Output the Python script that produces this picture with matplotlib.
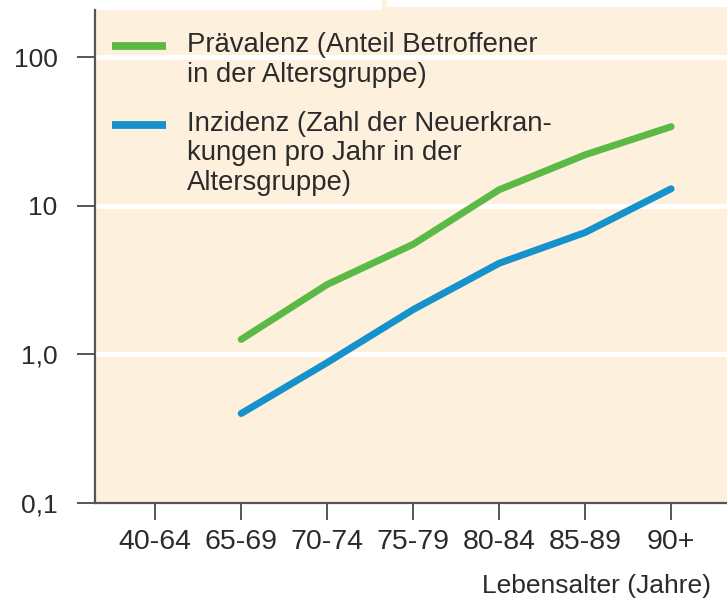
import matplotlib
matplotlib.use("Agg")
import matplotlib.pyplot as plt
from matplotlib.patches import Rectangle
from matplotlib.ticker import FixedLocator, NullLocator

plt.rcParams['font.family'] = ['Liberation Sans', 'DejaVu Sans']

# data
age_groups = ['40-64', '65-69', '70-74', '75-79', '80-84', '85-89', '90+']
praevalenz = [None, 1.26, 2.95, 5.5, 12.8, 22.0, 34.0]
inzidenz = [None, 0.40, 0.88, 2.0, 4.1, 6.6, 13.0]
y_ticks = [0.1, 1, 10, 100]
y_labels = ['0,1', '1,0', '10', '100']

legend_prae = ['Prävalenz (Anteil Betroffener', 'in der Altersgruppe)']
legend_inz = ['Inzidenz (Zahl der Neuerkran-', 'kungen pro Jahr in der',
              'Altersgruppe)']

green = '#5bb946'
blue = '#1591cc'
beige = '#fdf0dc'
text_col = '#2b2b2b'
W, H = 727, 602

fig = plt.figure(figsize=(W / 100, H / 100), dpi=100)
ax = fig.add_axes([95 / W, (H - 503) / H, (W - 95) / W, (503 - 10) / H])
ax.set_facecolor(beige)

# little notch at the top of the panel
fig.patches.append(Rectangle((382 / W, (H - 10) / H), 5 / W, 10 / H,
                             transform=fig.transFigure, color=beige, lw=0))
fig.patches.append(Rectangle((387 / W, (H - 10) / H), (W - 387) / W, 3 / H,
                             transform=fig.transFigure, color=beige, lw=0))

x = list(range(len(age_groups)))
px = [i for i, v in zip(x, praevalenz) if v is not None]
pv = [v for v in praevalenz if v is not None]
ix = [i for i, v in zip(x, inzidenz) if v is not None]
iv = [v for v in inzidenz if v is not None]

ax.set_yscale('log')
ax.set_ylim(0.1, 10 ** (2 + 47 / 148.5))
ax.set_xlim(-0.70, 6.65)

for t in y_ticks[1:]:
    ax.axhline(t, color='white', lw=3.6, zorder=1)

ax.plot(px, pv, color=green, lw=5, solid_capstyle='round', zorder=3)
ax.plot(ix, iv, color=blue, lw=5, solid_capstyle='round', zorder=3)

ax.yaxis.set_major_locator(FixedLocator(y_ticks))
ax.yaxis.set_minor_locator(NullLocator())
ax.set_yticklabels(y_labels)
ax.set_xticks(x)
ax.set_xticklabels(age_groups)

for s in ['top', 'right']:
    ax.spines[s].set_visible(False)
for s in ['left', 'bottom']:
    ax.spines[s].set_color('#555555')
    ax.spines[s].set_linewidth(1.6)

ax.tick_params(axis='y', length=13, width=1.4, color='#555555', pad=14,
               labelsize=19, labelcolor=text_col)
ax.tick_params(axis='x', length=12, width=1.4, color='#555555', pad=7,
               labelsize=20.5, labelcolor=text_col)

ax.set_xlabel('Lebensalter (Jahre)', fontsize=19, color=text_col)
ax.xaxis.set_label_coords((711 - 95) / (W - 95), -(586 - 503) / (503 - 10))
ax.xaxis.label.set_ha('right')
ax.xaxis.label.set_va('center')

# hand-made legend
def ax_xy(px_x, px_y):
    return (px_x - 95) / (W - 95), (503 - px_y) / (503 - 10)

def legend_entry(color, line_y, lines, first_base):
    x0, y0 = ax_xy(112, line_y)
    x1, _ = ax_xy(166, line_y)
    ax.plot([x0, x1], [y0, y0], color=color, lw=5.6, transform=ax.transAxes,
            solid_capstyle='butt', clip_on=False)
    for k, line in enumerate(lines):
        tx, ty = ax_xy(187, first_base + 29.5 * k)
        ax.text(tx, ty, line, transform=ax.transAxes, fontsize=19.8,
                color=text_col, va='baseline', ha='left')

legend_entry(green, 46, legend_prae, 52)
legend_entry(blue, 125, legend_inz, 131)

fig.savefig('out.png', dpi=100)
